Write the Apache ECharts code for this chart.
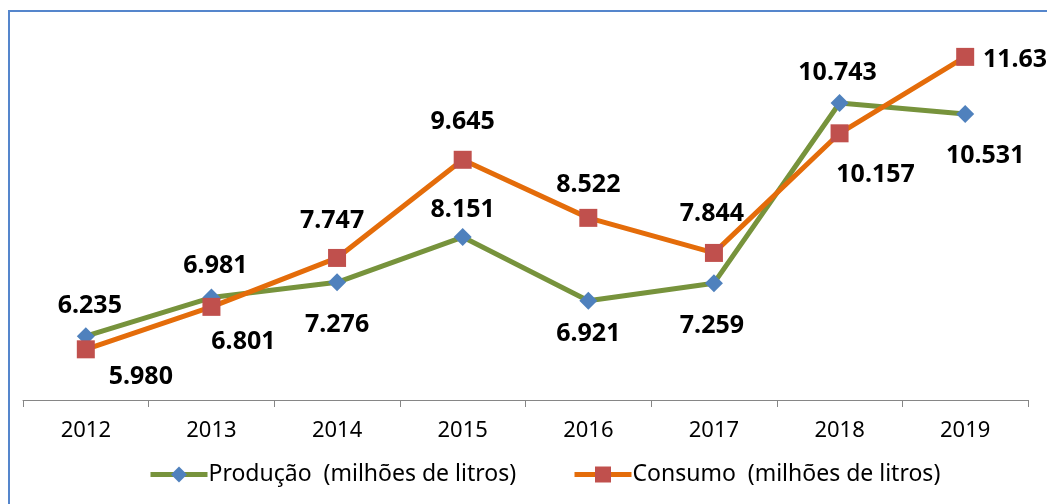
<!DOCTYPE html>
<html>
<head>
<meta charset="utf-8">
<script src="https://cdn.jsdelivr.net/npm/echarts@6/dist/echarts.min.js"></script>
<style>
html,body{margin:0;padding:0;background:#fff;}
#c{width:1047px;height:504px;}
</style>
</head>
<body>
<div id="c"></div>
<script>
const categories = ['2012','2013','2014','2015','2016','2017','2018','2019'];
const producao = [6.235, 6.981, 7.276, 8.151, 6.921, 7.259, 10.743, 10.531];
const consumo = [5.980, 6.801, 7.747, 9.645, 8.522, 7.844, 10.157, 11.635];
const nameProd = 'Produção  (milhões de litros)';
const nameCons = 'Consumo  (milhões de litros)';

// label offsets relative to each marker (style only)
const prodOffsets = [[4,-30],[4,-32],[0,43],[0,-27],[0,33],[-2,43],[-2,-30],[20,42]];
const consOffsets = [[55,28],[32,35],[-5,-37],[0,-38],[0,-33],[-2,-39],[36,42],[57,3]];

const labelStyle = {
  show: true,
  position: 'inside',
  fontFamily: 'Noto Sans',
  fontWeight: 'bold',
  fontSize: 25,
  color: '#000',
  formatter: p => p.value.toFixed(3)
};

function build(values, offsets) {
  return values.map((v, i) => ({
    value: v,
    label: Object.assign({}, labelStyle, {offset: offsets[i]})
  }));
}

const legendBase = {
  top: 463,
  padding: 0,
  itemWidth: 57, itemHeight: 20, itemGap: 4,
  lineStyle: {width: 5},
  textStyle: {fontFamily: 'Noto Sans', fontSize: 23, color: '#000', padding: [0, 0, 0, -4]}
};

const chart = echarts.init(document.getElementById('c'), null, {renderer: 'canvas'});
chart.setOption({
  animation: false,
  backgroundColor: '#fff',
  graphic: [{
    type: 'rect',
    shape: {x: 9, y: 11, width: 2000, height: 2000},
    style: {fill: 'none', stroke: '#5586CC', lineWidth: 2},
    z: 100
  }],
  grid: {left: 23, right: 19, top: 38, bottom: 104},
  legend: [
    Object.assign({}, legendBase, {data: [nameProd], left: 148}),
    Object.assign({}, legendBase, {data: [nameCons], left: 572})
  ],
  xAxis: {
    type: 'category',
    data: categories,
    boundaryGap: true,
    axisLine: {lineStyle: {color: '#868686', width: 1}},
    axisTick: {show: true, length: 7, lineStyle: {color: '#868686'}},
    axisLabel: {fontFamily: 'Noto Sans', fontSize: 22, color: '#000', margin: 20}
  },
  yAxis: {
    type: 'value',
    min: 5, max: 12,
    show: false,
    splitLine: {show: false}
  },
  series: [{
    name: nameProd,
    type: 'line',
    data: build(producao, prodOffsets),
    symbol: 'diamond',
    symbolSize: 18,
    itemStyle: {color: '#4F81BD'},
    lineStyle: {color: '#77933C', width: 5},
    z: 2
  }, {
    name: nameCons,
    type: 'line',
    data: build(consumo, consOffsets),
    symbol: 'rect',
    symbolSize: 18,
    itemStyle: {color: '#C0504D'},
    lineStyle: {color: '#E46C0A', width: 5},
    z: 3
  }]
});
</script>
</body>
</html>
